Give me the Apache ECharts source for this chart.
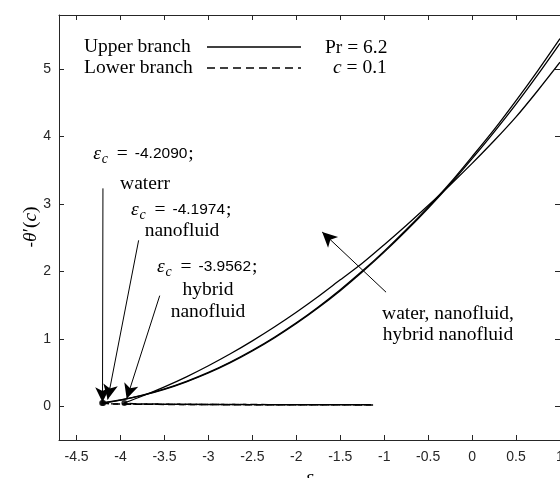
<!DOCTYPE html>
<html><head><meta charset="utf-8">
<script src="https://cdn.jsdelivr.net/npm/echarts@6/dist/echarts.min.js"></script>
<style>html,body{margin:0;padding:0;background:#fff}#c{width:560px;height:478px}</style>
</head><body><div id="c"></div>
<script>
// ---- data ----
const xTicks = [-4.5, -4, -3.5, -3, -2.5, -2, -1.5, -1, -0.5, 0, 0.5, 1];
const yTicks = [0, 1, 2, 3, 4, 5];
const criticalEps = [-4.2090, -4.1974, -3.9562]; // water, nanofluid, hybrid nanofluid

const waterUpperX = [-4.209, -4.0, -3.75, -3.5, -3.25, -3.0, -2.75, -2.5, -2.25, -2.0, -1.75, -1.5, -1.25, -1.0, -0.75, -0.5, -0.25, 0, 0.25, 0.5, 0.75, 1.0];
const waterUpperY = [0.05, 0.093, 0.165, 0.257, 0.370, 0.502, 0.656, 0.830, 1.024, 1.238, 1.473, 1.728, 2.004, 2.300, 2.616, 2.952, 3.309, 3.700, 4.100, 4.530, 4.980, 5.450];
const nanoUpperX = [-4.1974, -4.0, -3.75, -3.5, -3.25, -3.0, -2.75, -2.5, -2.25, -2.0, -1.75, -1.5, -1.25, -1.0, -0.75, -0.5, -0.25, 0, 0.25, 0.5, 0.75, 1.0];
const nanoUpperY = [0.05, 0.090, 0.160, 0.250, 0.362, 0.493, 0.646, 0.820, 1.013, 1.226, 1.460, 1.714, 1.990, 2.285, 2.600, 2.935, 3.290, 3.670, 4.065, 4.480, 4.920, 5.380];
const hybridUpperX = [-3.9562, -3.75, -3.5, -3.25, -3.0, -2.75, -2.5, -2.25, -2.0, -1.75, -1.5, -1.25, -1.0, -0.75, -0.5, -0.25, 0, 0.25, 0.5, 0.75, 1.0];
const hybridUpperY = [0.05, 0.152, 0.288, 0.437, 0.601, 0.778, 0.970, 1.175, 1.394, 1.627, 1.874, 2.120, 2.395, 2.680, 2.975, 3.280, 3.600, 3.935, 4.290, 4.685, 5.100];

const waterLowerX = [-4.209, -4.1, -3.8, -3.5, -3.0, -2.5, -2.0, -1.5, -1.1];
const waterLowerY = [0.05, 0.035, 0.030, 0.028, 0.025, 0.023, 0.022, 0.021, 0.020];
const nanoLowerX = [-4.1974, -4.1, -3.8, -3.5, -3.0, -2.5, -2.0, -1.5, -1.15];
const nanoLowerY = [0.05, 0.036, 0.031, 0.029, 0.026, 0.024, 0.023, 0.022, 0.021];
const hybridLowerX = [-3.9562, -3.85, -3.5, -3.0, -2.5, -2.0, -1.5, -1.2];
const hybridLowerY = [0.05, 0.036, 0.031, 0.027, 0.025, 0.023, 0.022, 0.021];

// annotation arrows: [startX, startY, tipX, tipY] in data units
const arrowLines = [
  [-4.200, 3.23, -4.205, 0.06],
  [-3.794, 2.46, -4.146, 0.10],
  [-3.554, 1.64, -3.930, 0.11],
  [-0.979, 1.691, -1.706, 2.583]
];

// ---- chart ----
const zip = (xs, ys) => xs.map((x, i) => [x, ys[i]]);
const axisColor = '#262626';
const sans = 'Liberation Sans';

function xAx(pos, showLabel) {
  return {
    type: 'value', position: pos, min: -4.7, max: 1,
    axisLine: { show: true, onZero: false, lineStyle: { color: axisColor, width: 1 } },
    axisTick: { show: true, inside: true, length: 5, customValues: xTicks, lineStyle: { color: axisColor } },
    axisLabel: { show: showLabel, customValues: xTicks, color: axisColor, fontSize: 14, fontFamily: sans, margin: 10 },
    splitLine: { show: false }
  };
}
function yAx(pos, showLabel) {
  return {
    type: 'value', position: pos, min: -0.5, max: 5.8,
    axisLine: { show: true, onZero: false, lineStyle: { color: axisColor, width: 1 } },
    axisTick: { show: true, inside: true, length: 5, customValues: yTicks, lineStyle: { color: axisColor } },
    axisLabel: { show: showLabel, customValues: yTicks, color: axisColor, fontSize: 14, fontFamily: sans, margin: 8 },
    splitLine: { show: false }
  };
}

function solid(name, xs, ys) {
  return { name, type: 'line', data: zip(xs, ys), showSymbol: false, smooth: 0.3, silent: true,
    lineStyle: { color: '#000', width: 1.3 }, z: 3 };
}
function dashed(name, xs, ys, off) {
  return { name, type: 'line', data: zip(xs, ys), showSymbol: false, silent: true,
    lineStyle: { color: '#000', width: 1.5, type: [7, 4], dashOffset: off }, z: 2 };
}

const series = [
  solid('water upper', waterUpperX, waterUpperY),
  solid('nanofluid upper', nanoUpperX, nanoUpperY),
  solid('hybrid upper', hybridUpperX, hybridUpperY),
  dashed('water lower', waterLowerX, waterLowerY, 0),
  dashed('nanofluid lower', nanoLowerX, nanoLowerY, 3),
  dashed('hybrid lower', hybridLowerX, hybridLowerY, 6),
  {
    name: 'critical', type: 'scatter', silent: true, symbolSize: 6,
    itemStyle: { color: '#000' },
    data: [[criticalEps[0], waterUpperY[0]], [criticalEps[1], nanoUpperY[0]], [criticalEps[2], hybridUpperY[0]]],
    markLine: {
      silent: true, symbol: ['none', 'arrow'], symbolSize: [11, 15],
      label: { show: false },
      lineStyle: { color: '#000', width: 1, type: 'solid' },
      emphasis: { disabled: true },
      data: arrowLines.map(a => [{ coord: [a[0], a[1]] }, { coord: [a[2], a[3]] }])
    }
  }
];

// text helpers
function txt(x, y, text, opt) {
  return Object.assign({ type: 'text', x, y, silent: true,
    style: Object.assign({ text, fill: '#000', font: '19.5px "Liberation Serif"', textAlign: 'left', textVerticalAlign: 'middle' }, opt || {}) });
}
function epsLine(x0, y, value) {
  return [
    txt(x0, y, 'ε', { font: 'italic 19.5px "Liberation Serif"' }),
    txt(x0 + 8.5, y + 5, 'c', { font: 'italic 14px "Liberation Serif"' }),
    txt(x0 + 23.5, y, '=', {}),
    txt(x0 + 41.5, y, value, { font: '15.5px "Liberation Sans"' }),
    txt(x0 + 95, y, ';', {})
  ];
}

const graphics = [].concat(
  // legend
  [
    txt(84, 47, 'Upper branch'),
    txt(84, 68, 'Lower branch'),
    { type: 'line', silent: true, shape: { x1: 207, y1: 47, x2: 301, y2: 47 }, style: { stroke: '#000', lineWidth: 1.3 } },
    { type: 'line', silent: true, shape: { x1: 207, y1: 68, x2: 301, y2: 68 }, style: { stroke: '#000', lineWidth: 1.3, lineDash: [8, 5] } },
    txt(325, 48, 'Pr = 6.2'),
    txt(333, 68, '{i|c}{n| = 0.1}', { rich: { i: { font: 'italic 19.5px "Liberation Serif"' }, n: { font: '19.5px "Liberation Serif"' } } })
  ],
  epsLine(93.3, 154, '-4.2090'),
  [txt(145, 184, 'waterr', { textAlign: 'center' })],
  epsLine(131, 210, '-4.1974'),
  [txt(182, 231, 'nanofluid', { textAlign: 'center' })],
  epsLine(157, 267, '-3.9562'),
  [txt(208, 290, 'hybrid', { textAlign: 'center' }), txt(208, 312, 'nanofluid', { textAlign: 'center' })],
  [txt(448, 314, 'water, nanofluid,', { textAlign: 'center' }), txt(448, 335, 'hybrid nanofluid', { textAlign: 'center' })],
  // axis titles
  [
    { type: 'text', x: 31, y: 227, rotation: Math.PI / 2, silent: true,
      style: { text: '{s|-}{i|θ}{n|′(}{i|c}{n|)}', textAlign: 'center', textVerticalAlign: 'middle', fill: '#000',
        rich: { s: { font: '17px "Liberation Sans"' }, i: { font: 'italic 19.5px "Liberation Serif"' }, n: { font: '19.5px "Liberation Serif"' } } } },
    txt(309.6, 468, 'ε', { font: 'italic 19.5px "Liberation Serif"', textAlign: 'center', textVerticalAlign: 'top' })
  ]
);

const chart = echarts.init(document.getElementById('c'), null, { renderer: 'canvas' });
chart.setOption({
  animation: false,
  backgroundColor: '#fff',
  grid: { left: 59, right: 0, top: 15, bottom: 38, containLabel: false, outerBoundsMode: 'none' },
  xAxis: [xAx('bottom', true), xAx('top', false)],
  yAxis: [yAx('left', true), yAx('right', false)],
  series,
  graphic: graphics
});
</script></body></html>
